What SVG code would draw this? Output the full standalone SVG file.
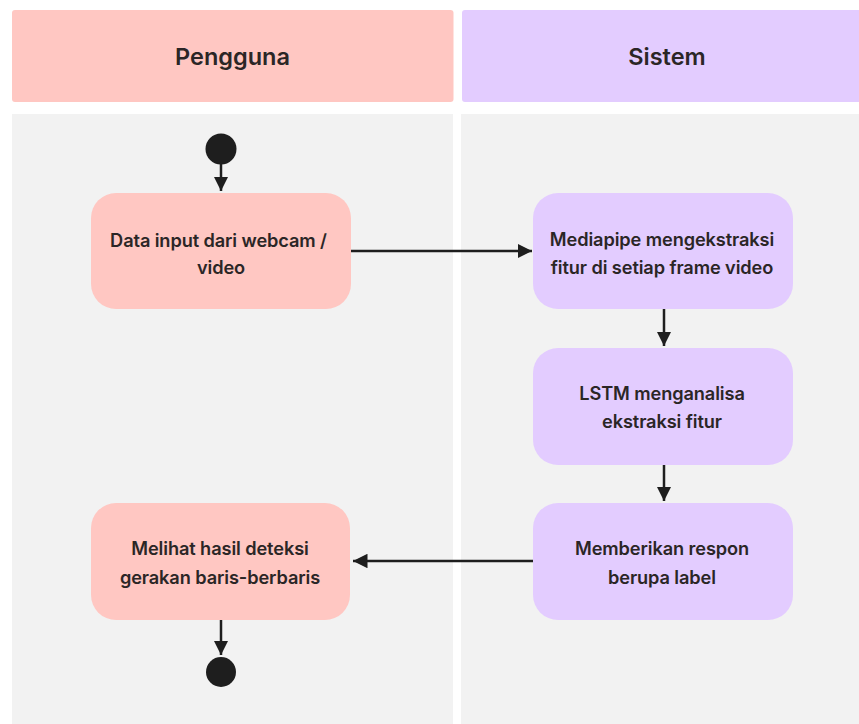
<svg xmlns="http://www.w3.org/2000/svg" width="859" height="724" viewBox="0 0 859 724">
<style>
.hdr{font-family:Inter,"Noto Sans","Liberation Sans",sans-serif;font-size:23.5px;font-weight:600;fill:#2b2626;text-anchor:middle;dominant-baseline:central}
.lbl{font-family:Inter,"Noto Sans","Liberation Sans",sans-serif;font-size:18.2px;font-weight:600;fill:#2b2626;text-anchor:middle;dominant-baseline:central;letter-spacing:-0.1px}
.pink{fill:#FFC7C2}
.purple{fill:#E3CCFF}
.lane{fill:#F2F2F2}
.conn{stroke:#1e1e1e;stroke-width:2.5;fill:none}
.dot{fill:#1e1e1e}
</style>
<defs>
<marker id="ah" viewBox="0 0 10 10" refX="10" refY="5" markerWidth="5.8" markerHeight="5.8" markerUnits="strokeWidth" orient="auto">
<path d="M0,0 L10,5 L0,10 Z" fill="#1e1e1e"/>
</marker>
</defs>
<rect width="859" height="724" fill="#ffffff"/>
<g id="lane-pengguna">
<rect class="pink" x="12" y="10" width="441.5" height="92" rx="3"/>
<text class="hdr" x="232.5" y="56">Pengguna</text>
<rect class="lane" x="12" y="114" width="441" height="610"/>
</g>
<g id="lane-sistem">
<rect class="purple" x="462" y="10" width="400" height="92" rx="3"/>
<text class="hdr" x="667" y="56">Sistem</text>
<rect class="lane" x="461" y="114" width="398" height="610"/>
</g>
<g id="start"><circle class="dot" cx="221" cy="149" r="15.5"/></g>
<g id="n1">
<rect class="pink" x="91" y="193" width="260" height="116" rx="25"/>
<text class="lbl" x="218.5" y="240">Data input dari webcam /</text>
<text class="lbl" x="221" y="267">video</text>
</g>
<g id="n2">
<rect class="purple" x="533" y="193" width="260" height="116" rx="25"/>
<text class="lbl" x="662" y="239">Mediapipe mengekstraksi</text>
<text class="lbl" x="662" y="267">fitur di setiap frame video</text>
</g>
<g id="n3">
<rect class="purple" x="533" y="348" width="260" height="117" rx="25"/>
<text class="lbl" x="662" y="393">LSTM menganalisa</text>
<text class="lbl" x="662" y="421">ekstraksi fitur</text>
</g>
<g id="n4">
<rect class="purple" x="533" y="503" width="260" height="117" rx="25"/>
<text class="lbl" x="662" y="548">Memberikan respon</text>
<text class="lbl" x="662" y="577">berupa label</text>
</g>
<g id="n5">
<rect class="pink" x="91" y="503" width="259" height="117" rx="25"/>
<text class="lbl" x="220" y="548">Melihat hasil deteksi</text>
<text class="lbl" x="220" y="577">gerakan baris-berbaris</text>
</g>
<g id="end"><circle class="dot" cx="221" cy="672" r="15"/></g>
<g id="connectors">
<line class="conn" x1="351" y1="251" x2="532" y2="251" marker-end="url(#ah)"/>
<line class="conn" x1="221" y1="164" x2="221" y2="191" marker-end="url(#ah)"/>
<line class="conn" x1="664" y1="309" x2="664" y2="346" marker-end="url(#ah)"/>
<line class="conn" x1="664" y1="465" x2="664" y2="501" marker-end="url(#ah)"/>
<line class="conn" x1="533" y1="561" x2="353" y2="561" marker-end="url(#ah)"/>
<line class="conn" x1="221" y1="620" x2="221" y2="655" marker-end="url(#ah)"/>
</g>
</svg>
